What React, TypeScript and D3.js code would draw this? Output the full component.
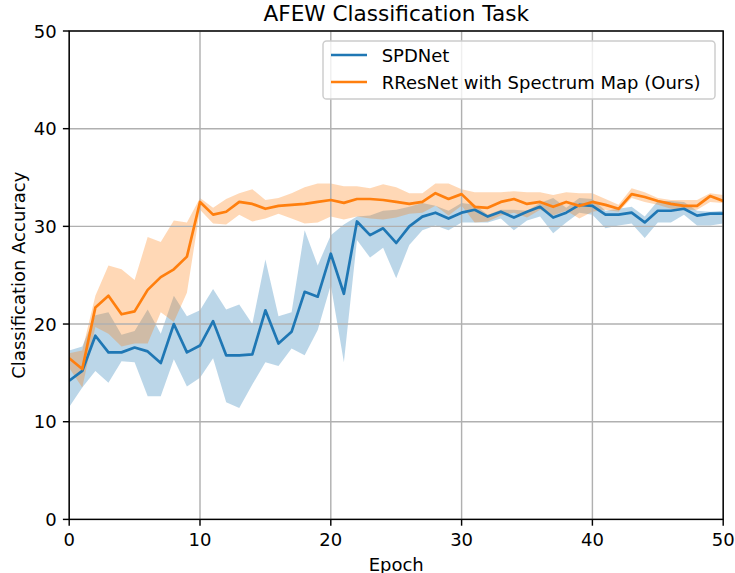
import React from "react";
import * as d3 from "d3";

const epochs = d3.range(0, 51);

const spdMean = [14.2, 15.2, 18.8, 17.1, 17.1, 17.6, 17.2, 16.0, 20.0, 17.1, 17.8, 20.3, 16.8, 16.8, 16.9, 21.4, 18.0, 19.2, 23.3, 22.8, 27.2, 23.1, 30.5, 29.1, 29.8, 28.3, 30.0, 31.0, 31.4, 30.8, 31.4, 31.7, 31.0, 31.5, 30.9, 31.5, 32.0, 30.9, 31.4, 32.2, 32.1, 31.2, 31.2, 31.4, 30.4, 31.6, 31.6, 31.8, 31.1, 31.3, 31.3];
const spdUpper = [17.3, 17.7, 20.9, 21.2, 18.9, 19.3, 21.5, 19.0, 22.9, 20.8, 21.4, 23.6, 21.5, 22.0, 20.0, 26.6, 20.8, 21.2, 29.6, 26.0, 29.1, 30.2, 31.0, 31.1, 31.6, 31.7, 32.0, 32.4, 32.1, 31.6, 32.4, 32.2, 31.2, 31.7, 31.7, 31.6, 32.4, 32.9, 31.9, 32.9, 32.8, 31.6, 31.8, 32.0, 31.0, 32.6, 32.6, 32.5, 31.6, 31.5, 31.6];
const spdLower = [11.5, 13.5, 15.2, 14.0, 16.2, 16.1, 12.6, 12.6, 16.4, 13.6, 14.5, 16.5, 12.0, 11.4, 13.8, 16.1, 15.7, 17.5, 16.8, 19.4, 24.0, 16.1, 28.6, 26.8, 27.8, 24.7, 28.1, 29.6, 30.1, 29.6, 30.4, 30.4, 30.4, 30.8, 29.6, 30.6, 31.0, 29.3, 30.4, 31.4, 31.2, 29.8, 30.1, 30.3, 28.8, 30.4, 30.4, 31.2, 30.1, 30.1, 30.3];

const oursMean = [16.5, 15.4, 21.7, 22.9, 21.0, 21.3, 23.5, 24.8, 25.6, 26.9, 32.5, 31.2, 31.5, 32.5, 32.3, 31.8, 32.1, 32.2, 32.3, 32.5, 32.7, 32.4, 32.8, 32.8, 32.7, 32.5, 32.3, 32.5, 33.4, 32.8, 33.3, 32.0, 31.9, 32.5, 32.8, 32.3, 32.5, 32.0, 32.5, 32.1, 32.5, 32.2, 31.8, 33.3, 33.0, 32.6, 32.3, 32.1, 32.1, 33.1, 32.6];
const oursUpper = [17.0, 17.3, 22.9, 26.0, 25.6, 24.5, 28.9, 28.4, 30.6, 30.4, 32.9, 31.9, 32.8, 33.4, 33.8, 32.7, 32.9, 33.4, 34.0, 34.4, 34.4, 34.1, 34.1, 33.9, 34.3, 34.0, 33.4, 33.4, 34.4, 34.4, 33.8, 33.5, 33.5, 33.5, 33.6, 33.5, 33.5, 33.2, 33.5, 33.4, 33.4, 32.8, 32.2, 33.9, 33.5, 32.9, 32.7, 32.7, 32.7, 33.4, 33.2];
const oursLower = [15.5, 13.5, 19.7, 19.0, 17.7, 18.0, 18.0, 21.2, 20.2, 23.2, 31.7, 30.3, 30.2, 31.2, 30.5, 30.8, 31.3, 30.8, 30.3, 30.4, 31.0, 30.7, 31.0, 30.8, 30.7, 30.9, 31.3, 31.4, 32.1, 31.1, 32.1, 30.4, 30.5, 31.1, 31.4, 30.9, 31.7, 31.1, 31.6, 30.8, 31.5, 31.7, 31.5, 32.9, 32.5, 32.2, 31.8, 31.7, 31.7, 32.5, 32.4];

const xTicks = [0, 10, 20, 30, 40, 50];
const yTicks = [0, 10, 20, 30, 40, 50];

const seriesNames = ["SPDNet", "RResNet with Spectrum Map (Ours)"];
const seriesColors = ["#1f77b4", "#ff7f0e"];

const W = 735;
const H = 573;
const L = 69.2;
const R = 723.2;
const T = 31;
const B = 519.4;
const FONT = "DejaVu Sans";

export default function App() {
  const x = d3.scaleLinear().domain([0, 50]).range([L, R]);
  const y = d3.scaleLinear().domain([0, 50]).range([B, T]);

  const series = [
    { mean: spdMean, upper: spdUpper, lower: spdLower },
    { mean: oursMean, upper: oursUpper, lower: oursLower },
  ];

  const area = (lo: number[], hi: number[]) =>
    d3
      .area<number>()
      .x((e) => x(e))
      .y0((e, i) => y(lo[i]))
      .y1((e, i) => y(hi[i]))(epochs) || "";
  const line = (m: number[]) =>
    d3
      .line<number>()
      .x((e) => x(e))
      .y((e, i) => y(m[i]))(epochs) || "";

  const lx = 323;
  const ly = 41;
  const lw = 392;
  const lh = 58;

  return (
    <svg
      width={W}
      height={H}
      style={{ position: "absolute", left: 0, top: 0, background: "#fff" }}
      fontFamily={FONT}
    >
      <rect x={0} y={0} width={W} height={H} fill="#fff" />
      <defs>
        <clipPath id="plotclip">
          <rect x={L} y={T} width={R - L} height={B - T} />
        </clipPath>
      </defs>
      <g clipPath="url(#plotclip)">
        {series.map((s, i) => (
          <path key={"a" + i} d={area(s.lower, s.upper)} fill={seriesColors[i]} fillOpacity={0.3} stroke="none" />
        ))}
      </g>
      {xTicks.map((t) => (
        <line key={"gx" + t} x1={x(t)} x2={x(t)} y1={T} y2={B} stroke="#b0b0b0" strokeWidth={1.44} />
      ))}
      {yTicks.map((t) => (
        <line key={"gy" + t} x1={L} x2={R} y1={y(t)} y2={y(t)} stroke="#b0b0b0" strokeWidth={1.44} />
      ))}
      <g clipPath="url(#plotclip)">
        {series.map((s, i) => (
          <path
            key={"l" + i}
            d={line(s.mean)}
            fill="none"
            stroke={seriesColors[i]}
            strokeWidth={2.7}
            strokeLinejoin="round"
            strokeLinecap="square"
          />
        ))}
      </g>
      <rect x={L} y={T} width={R - L} height={B - T} fill="none" stroke="#000" strokeWidth={1.44} />
      {xTicks.map((t) => (
        <g key={"tx" + t}>
          <line x1={x(t)} x2={x(t)} y1={B} y2={B + 6.3} stroke="#000" strokeWidth={1.44} />
          <text x={x(t)} y={546} textAnchor="middle" fontSize={18} fill="#000">
            {t}
          </text>
        </g>
      ))}
      {yTicks.map((t) => (
        <g key={"ty" + t}>
          <line x1={L - 6.3} x2={L} y1={y(t)} y2={y(t)} stroke="#000" strokeWidth={1.44} />
          <text x={L - 12.6} y={y(t) + 6.5} textAnchor="end" fontSize={18} fill="#000">
            {t}
          </text>
        </g>
      ))}
      <text x={(L + R) / 2} y={571} textAnchor="middle" fontSize={18} fill="#000">
        Epoch
      </text>
      <text
        transform={`translate(25, ${(T + B) / 2}) rotate(-90)`}
        textAnchor="middle"
        fontSize={18}
        fill="#000"
      >
        Classification Accuracy
      </text>
      <text x={(L + R) / 2} y={21} textAnchor="middle" fontSize={21.6} fill="#000">
        AFEW Classification Task
      </text>
      <g>
        <rect
          x={lx}
          y={ly}
          width={lw}
          height={lh}
          rx={3.6}
          ry={3.6}
          fill="#fff"
          fillOpacity={0.8}
          stroke="#cccccc"
          strokeWidth={1.44}
        />
        {seriesNames.map((n, i) => (
          <g key={"lg" + i}>
            <line
              x1={331}
              x2={367}
              y1={55 + i * 27}
              y2={55 + i * 27}
              stroke={seriesColors[i]}
              strokeWidth={2.7}
            />
            <text x={381.7} y={55 + i * 27 + 6.5} fontSize={18} fill="#000">
              {n}
            </text>
          </g>
        ))}
      </g>
    </svg>
  );
}
